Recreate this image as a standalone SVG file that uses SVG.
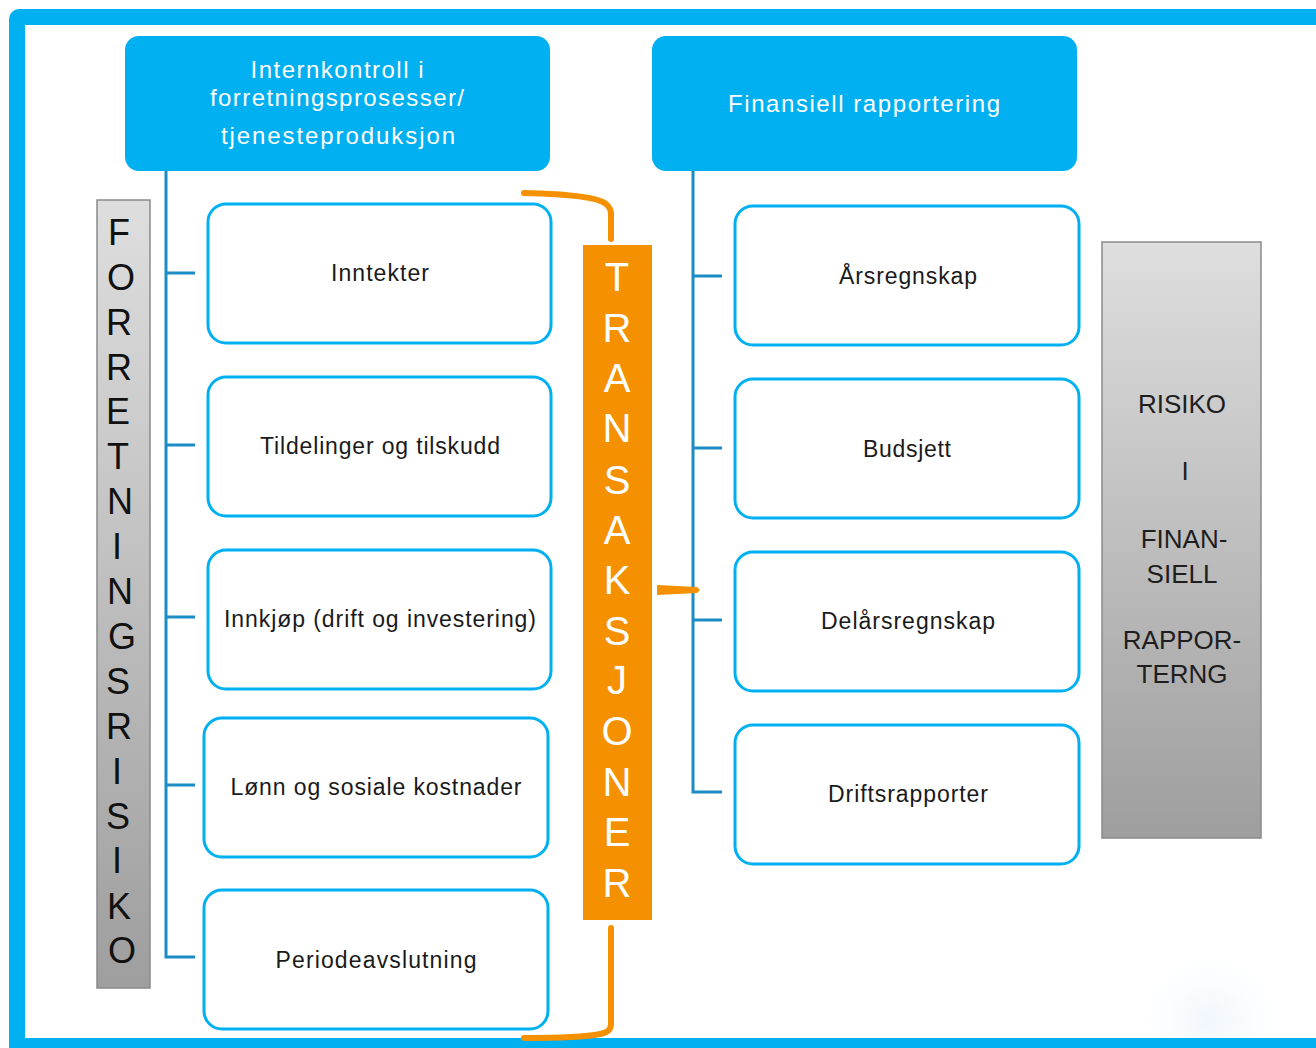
<svg xmlns="http://www.w3.org/2000/svg" width="1316" height="1048" viewBox="0 0 1316 1048">
<defs>
<linearGradient id="gray" x1="0" y1="0" x2="0" y2="1">
<stop offset="0" stop-color="#DEDEDE"/>
<stop offset="1" stop-color="#9E9E9E"/>
</linearGradient>
<radialGradient id="glow" cx="0.5" cy="0.5" r="0.5">
<stop offset="0" stop-color="#E8F2FB"/>
<stop offset="1" stop-color="#FFFFFF" stop-opacity="0"/>
</radialGradient>
<clipPath id="inner"><rect x="25" y="25" width="1320" height="1013"/></clipPath>
<style>
.hdr{fill:#00B0F0;}
.hdrt{font-family:"Liberation Sans","Open Sans",sans-serif;font-size:24px;fill:#FFFFFF;text-anchor:middle;}
.box{fill:#FFFFFF;stroke:#00B0F0;stroke-width:3;}
.bt{font-family:"Liberation Sans","Open Sans",sans-serif;font-size:23px;fill:#1A1A1A;text-anchor:middle;}
.con{fill:none;stroke:#1B8CC4;stroke-width:3;}
.or{fill:none;stroke:#F59100;stroke-width:6;stroke-linecap:round;}
.vl{font-family:"Liberation Sans","Open Sans",sans-serif;font-size:36px;fill:#111111;text-anchor:middle;}
.tl{font-family:"Liberation Sans","Open Sans",sans-serif;font-size:40px;fill:#FFFFFF;text-anchor:middle;}
.rt{font-family:"Liberation Sans","Open Sans",sans-serif;font-size:26px;fill:#1E1E1E;text-anchor:middle;}
</style>
</defs>
<g id="frame">
<rect x="9" y="9" width="1340" height="1060" rx="10" fill="#00B0F0"/>
<rect x="25" y="25" width="1320" height="1013" fill="#FFFFFF"/>
<ellipse cx="1210" cy="1020" rx="85" ry="80" fill="url(#glow)" opacity="0.7" clip-path="url(#inner)"/>
</g>
<g id="connectors">
<path class="con" d="M166,171 V957 H195"/>
<path class="con" d="M166,273 H195 M166,445 H195 M166,617 H195 M166,785 H195"/>
<path class="con" d="M693,171 V792 H722"/>
<path class="con" d="M693,276 H722 M693,448 H722 M693,620 H722"/>
<path class="or" d="M524,193 C570,194 598,197 606,204 Q611,208 611,214 V239"/>
<path class="or" d="M611,928 V1024 Q611,1032 600,1034 C585,1037 560,1038 524,1038"/>
<polygon points="657,585 697,587 700,590 697,593 657,595" fill="#F59100"/>
</g>
<g id="hdr-left">
<rect class="hdr" x="125" y="36" width="425" height="135" rx="14"/>
<text class="hdrt" x="337" y="78" textLength="173" lengthAdjust="spacing">Internkontroll i</text>
<text class="hdrt" x="337" y="106" textLength="254" lengthAdjust="spacing">forretningsprosesser/</text>
<text class="hdrt" x="338" y="144" textLength="234" lengthAdjust="spacing">tjenesteproduksjon</text>
</g>
<g id="hdr-right">
<rect class="hdr" x="652" y="36" width="425" height="135" rx="14"/>
<text class="hdrt" x="864" y="112" textLength="272" lengthAdjust="spacing">Finansiell rapportering</text>
</g>
<g id="n-inntekter"><rect class="box" x="208" y="204" width="343" height="139" rx="18"/><text class="bt" x="380" y="281" textLength="98" lengthAdjust="spacing">Inntekter</text></g>
<g id="n-tildelinger"><rect class="box" x="208" y="377" width="343" height="139" rx="18"/><text class="bt" x="380" y="454" textLength="240" lengthAdjust="spacing">Tildelinger og tilskudd</text></g>
<g id="n-innkjop"><rect class="box" x="208" y="550" width="343" height="139" rx="18"/><text class="bt" x="380" y="627" textLength="312" lengthAdjust="spacing">Innkjøp (drift og investering)</text></g>
<g id="n-lonn"><rect class="box" x="204" y="718" width="344" height="139" rx="18"/><text class="bt" x="376" y="795" textLength="291" lengthAdjust="spacing">Lønn og sosiale kostnader</text></g>
<g id="n-periode"><rect class="box" x="204" y="890" width="344" height="139" rx="18"/><text class="bt" x="376" y="968" textLength="201" lengthAdjust="spacing">Periodeavslutning</text></g>
<g id="n-arsregnskap"><rect class="box" x="735" y="206" width="344" height="139" rx="18"/><text class="bt" x="908" y="284" textLength="138" lengthAdjust="spacing">Årsregnskap</text></g>
<g id="n-budsjett"><rect class="box" x="735" y="379" width="344" height="139" rx="18"/><text class="bt" x="907" y="457" textLength="88" lengthAdjust="spacing">Budsjett</text></g>
<g id="n-delars"><rect class="box" x="735" y="552" width="344" height="139" rx="18"/><text class="bt" x="908" y="629" textLength="174" lengthAdjust="spacing">Delårsregnskap</text></g>
<g id="n-drifts"><rect class="box" x="735" y="725" width="344" height="139" rx="18"/><text class="bt" x="908" y="802" textLength="160" lengthAdjust="spacing">Driftsrapporter</text></g>
<g id="n-forretningsrisiko">
<rect x="97" y="200" width="53" height="788" fill="url(#gray)" stroke="#8A8A8A" stroke-width="1.5"/>
<text class="vl" x="119" y="245">F</text>
<text class="vl" x="121" y="290">O</text>
<text class="vl" x="119" y="335">R</text>
<text class="vl" x="119" y="380">R</text>
<text class="vl" x="118" y="424">E</text>
<text class="vl" x="118" y="469">T</text>
<text class="vl" x="120" y="514">N</text>
<text class="vl" x="117" y="559">I</text>
<text class="vl" x="120" y="604">N</text>
<text class="vl" x="122" y="649">G</text>
<text class="vl" x="118" y="694">S</text>
<text class="vl" x="119" y="739">R</text>
<text class="vl" x="117" y="784">I</text>
<text class="vl" x="118" y="829">S</text>
<text class="vl" x="117" y="873">I</text>
<text class="vl" x="119" y="919">K</text>
<text class="vl" x="122" y="963">O</text>
</g>
<g id="n-transaksjoner">
<rect x="583" y="245" width="69" height="675" fill="#F59100"/>
<text class="tl" x="617" y="291">T</text>
<text class="tl" x="617" y="342">R</text>
<text class="tl" x="617" y="392">A</text>
<text class="tl" x="617" y="442">N</text>
<text class="tl" x="617" y="494">S</text>
<text class="tl" x="617" y="544">A</text>
<text class="tl" x="617" y="594">K</text>
<text class="tl" x="617" y="645">S</text>
<text class="tl" x="617" y="694">J</text>
<text class="tl" x="617" y="745">O</text>
<text class="tl" x="617" y="796">N</text>
<text class="tl" x="617" y="846">E</text>
<text class="tl" x="617" y="897">R</text>
</g>
<g id="n-risiko">
<rect x="1102" y="242" width="159" height="596" fill="url(#gray)" stroke="#8A8A8A" stroke-width="1.5"/>
<text class="rt" x="1182" y="413">RISIKO</text>
<text class="rt" x="1185" y="480">I</text>
<text class="rt" x="1184" y="548">FINAN-</text>
<text class="rt" x="1182" y="583">SIELL</text>
<text class="rt" x="1182" y="649">RAPPOR-</text>
<text class="rt" x="1182" y="683">TERNG</text>
</g>
</svg>
